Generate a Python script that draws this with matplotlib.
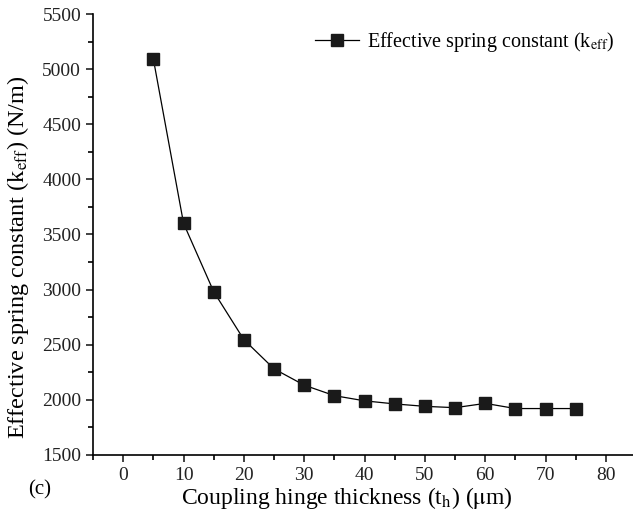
import matplotlib
matplotlib.use("Agg")
import matplotlib.pyplot as plt
from matplotlib.ticker import MultipleLocator

# hinge thickness (um) vs effective spring constant (N/m)
thickness = [5, 10, 15, 20, 25, 30, 35, 40, 45, 50, 55, 60, 65, 70, 75]
k_eff = [5090, 3600, 2980, 2545, 2280, 2132, 2037, 1990, 1962, 1940,
         1928, 1967, 1920, 1920, 1920]

plt.rcParams['font.family'] = ['Liberation Serif', 'DejaVu Serif']
plt.rcParams['mathtext.fontset'] = 'stix'

fig = plt.figure(figsize=(6.33, 5.21), dpi=100)
ax = fig.add_axes([0.147, 0.127, 0.858, 0.846])

ax.plot(thickness, k_eff, color='k', linewidth=0.9, marker='s',
        markersize=8, markerfacecolor='#1a1a1a', markeredgecolor='#1a1a1a',
        label=r'Effective spring constant (k$_{\mathrm{eff}}$)')

ax.set_xlim(-5, 85)
ax.set_ylim(1500, 5500)
ax.xaxis.set_major_locator(MultipleLocator(10))
ax.xaxis.set_minor_locator(MultipleLocator(5))
ax.yaxis.set_major_locator(MultipleLocator(500))
ax.yaxis.set_minor_locator(MultipleLocator(250))

for side in ['top', 'right']:
    ax.spines[side].set_visible(False)
for side in ['left', 'bottom']:
    ax.spines[side].set_linewidth(1.2)

ax.tick_params(which='major', direction='out', length=5, width=1.2,
               labelsize=14, colors='#222222')
ax.tick_params(which='minor', direction='out', length=3.5, width=1.2)

ax.set_xlabel(r'Coupling hinge thickness (t$_{\mathrm{h}}$) ($\mathrm{\mu}$m)',
              fontsize=17)
ax.set_ylabel(r'Effective spring constant (k$_{\mathrm{eff}}$) (N/m)',
              fontsize=17.5)
ax.xaxis.set_label_coords(0.467, -0.068)
ax.yaxis.set_label_coords(-0.114, 0.449)

ax.legend(loc='upper right', bbox_to_anchor=(0.994, 1.005), frameon=False,
          fontsize=14.5, handlelength=2.2, handletextpad=0.4)

fig.text(0.045, 0.05, '(c)', fontsize=15)

fig.savefig('out.png', dpi=100)
